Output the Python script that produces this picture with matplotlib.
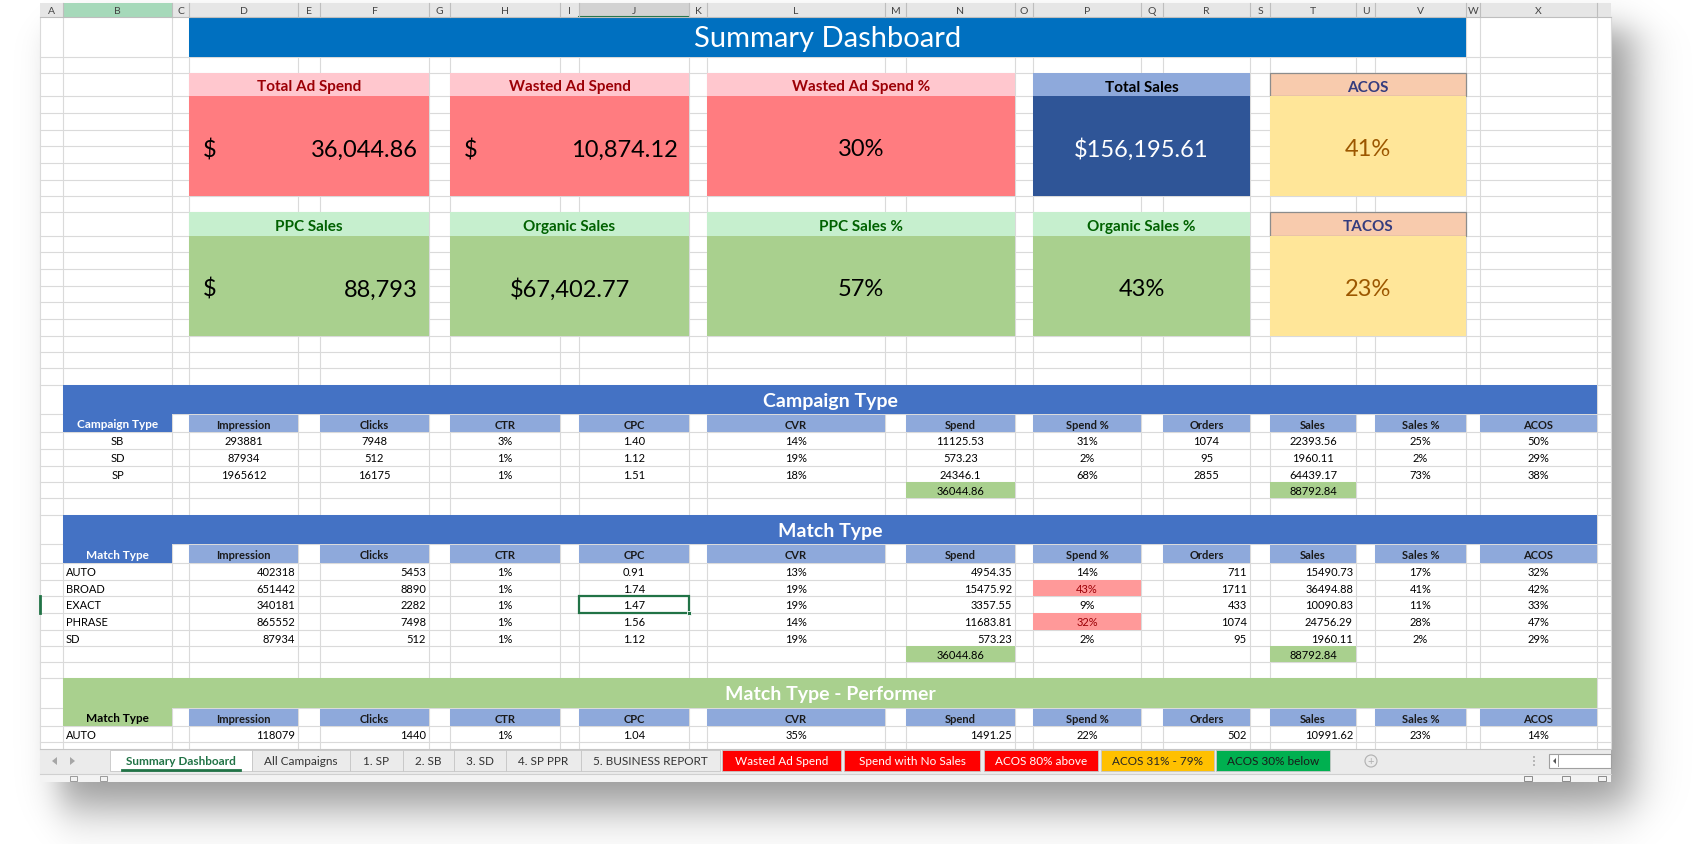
import numpy as np
import matplotlib.pyplot as plt
from matplotlib.patches import Rectangle, Circle, Polygon

plt.rcParams['font.family'] = ['Lato', 'DejaVu Sans']

# ---- KPI cards
kpi1_labels = ["Total Ad Spend", "Wasted Ad Spend", "Wasted Ad Spend %", "Total Sales", "ACOS"]
kpi1_values = [36044.86, 10874.12, 30, 156195.61, 41]
kpi2_labels = ["PPC Sales", "Organic Sales", "PPC Sales %", "Organic Sales %", "TACOS"]
kpi2_values = [88792.84, 67402.77, 57, 43, 23]

# ---- tables
metric_headers = ["Impression", "Clicks", "CTR", "CPC", "CVR", "Spend", "Spend %",
                  "Orders", "Sales", "Sales %", "ACOS"]

campaign_types = ["SB", "SD", "SP"]
camp_impressions = [293881, 87934, 1965612]
camp_clicks = [7948, 512, 16175]
camp_ctr = [3, 1, 1]
camp_cpc = [1.40, 1.12, 1.51]
camp_cvr = [14, 19, 18]
camp_spend = [11125.53, 573.23, 24346.1]
camp_spend_pct = [31, 2, 68]
camp_orders = [1074, 95, 2855]
camp_sales = [22393.56, 1960.11, 64439.17]
camp_sales_pct = [25, 2, 73]
camp_acos = [50, 29, 38]

match_types = ["AUTO", "BROAD", "EXACT", "PHRASE", "SD"]
match_impressions = [402318, 651442, 340181, 865552, 87934]
match_clicks = [5453, 8890, 2282, 7498, 512]
match_ctr = [1, 1, 1, 1, 1]
match_cpc = [0.91, 1.74, 1.47, 1.56, 1.12]
match_cvr = [13, 19, 19, 14, 19]
match_spend = [4954.35, 15475.92, 3357.55, 11683.81, 573.23]
match_spend_pct = [14, 43, 9, 32, 2]
match_orders = [711, 1711, 433, 1074, 95]
match_sales = [15490.73, 36494.88, 10090.83, 24756.29, 1960.11]
match_sales_pct = [17, 41, 11, 28, 2]
match_acos = [32, 42, 33, 47, 29]

perf_types = ["AUTO"]
perf_impressions = [118079]
perf_clicks = [1440]
perf_ctr = [1]
perf_cpc = [1.04]
perf_cvr = [35]
perf_spend = [1491.25]
perf_spend_pct = [22]
perf_orders = [502]
perf_sales = [10991.62]
perf_sales_pct = [23]
perf_acos = [14]

spend_total = 36044.86
sales_total = 88792.84

tab_names = ["Summary Dashboard", "All Campaigns", "1. SP", "2. SB", "3. SD", "4. SP PPR",
             "5. BUSINESS REPORT", "Wasted Ad Spend", "Spend with No Sales", "ACOS 80% above",
             "ACOS 31% - 79%", "ACOS 30% below"]

# ---- sheet layout (pixels)
W, H = 1706, 845
letters = list("ABCDEFGHIJKLMNOPQRSTUVWX")
col_edges = [40, 63, 172, 189, 298, 320, 429, 450, 560, 579, 689, 707, 885, 906,
             1015, 1033, 1141, 1163, 1250, 1270, 1356, 1375, 1466, 1480, 1597]
row_edges = [4, 18, 58, 74, 97, 114, 131, 147, 164, 181, 197, 213, 237, 253, 270, 287,
             303, 320, 337, 353, 369, 386, 415, 433, 450, 467, 483, 499, 516, 545, 564,
             581, 597, 614, 631, 647, 663, 679, 709, 727, 743, 760]
win_x0, win_x1, win_y1 = 40, 1611, 783
metric_cols = [3, 5, 7, 9, 11, 13, 15, 17, 19, 21, 23]

fig = plt.figure(figsize=(W / 100, H / 100), dpi=100)
ax = fig.add_axes([0, 0, 1, 1])

# drop shadow of the window
yy, xx = np.mgrid[0:H, 0:W] + 0.5
def soft(a, w):
    return 1 / (1 + np.exp(-a / w))
s = soft(xx - 60, 10) * soft(1632 - xx, 13) * soft(yy - 30, 10) * soft(808 - yy, 14)
shadow = np.zeros((H, W, 4))
shadow[..., 3] = 0.42 * s
ax.imshow(shadow, extent=[0, W, H, 0], zorder=0, interpolation='bilinear')
ax.set_xlim(0, W)
ax.set_ylim(H, 0)
ax.set_aspect('auto')
ax.axis('off')

ax.add_patch(Rectangle((win_x0, 4), win_x1 - win_x0, win_y1 - 4, fc='white', ec='none', zorder=1))

# gridlines
for x in col_edges + [win_x1]:
    ax.plot([x, x], [18, 750], color='#DADADA', lw=0.8, zorder=2)
for y in row_edges[2:]:
    ax.plot([win_x0, win_x1], [y, y], color='#DADADA', lw=0.8, zorder=2)

# column header row
ax.add_patch(Rectangle((win_x0, 4), win_x1 - win_x0, 14, fc='#E6E6E6', ec='none', zorder=3))
ax.add_patch(Rectangle((col_edges[1], 4), col_edges[2] - col_edges[1], 14, fc='#A6D9BA', ec='none', zorder=3))
ax.add_patch(Rectangle((col_edges[9], 4), col_edges[10] - col_edges[9], 14, fc='#D2D2D2', ec='none', zorder=3))
ax.plot([col_edges[9], col_edges[10]], [17.5, 17.5], color='#217346', lw=1.5, zorder=4)
for i, L in enumerate(letters):
    x0, x1 = col_edges[i], col_edges[i + 1]
    ax.plot([x1, x1], [4, 18], color='#BEBEBE', lw=0.8, zorder=4)
    ax.text((x0 + x1) / 2, 11, L, ha='center', va='center', fontsize=7.5, color='#444444', zorder=5)
ax.plot([win_x0, win_x1], [18, 18], color='#BEBEBE', lw=0.8, zorder=4)


def box(c0, c1, r0, r1, fc, ec='none', lw=0, z=3):
    x0, x1 = col_edges[c0], col_edges[c1 + 1]
    y0, y1 = row_edges[r0], row_edges[r1 + 1]
    ax.add_patch(Rectangle((x0, y0), x1 - x0, y1 - y0, fc=fc, ec=ec, lw=lw, zorder=z))
    return x0, x1, (y0 + y1) / 2


# title
x0, x1, yc = box(3, 21, 1, 1, '#0070C0')
ax.text((x0 + x1) / 2, yc + 1, "Summary Dashboard", ha='center', va='center',
        fontsize=21, color='white', zorder=6)

# KPI cards
card_cols = [(3, 5), (7, 9), (11, 13), (15, 17), (19, 21)]
card1_style = [('#FFC7CE', '#9C0006', '#FF7C80', 'black', 'acct2'),
               ('#FFC7CE', '#9C0006', '#FF7C80', 'black', 'acct2'),
               ('#FFC7CE', '#9C0006', '#FF7C80', 'black', 'pct'),
               ('#8EA9DB', 'black', '#2F5597', 'white', 'cur2'),
               ('#F8CBAD', '#343C7E', '#FFE699', '#9C5700', 'pct')]
card2_style = [('#C6EFCE', '#006100', '#A9D08E', 'black', 'acct0'),
               ('#C6EFCE', '#006100', '#A9D08E', 'black', 'cur2'),
               ('#C6EFCE', '#006100', '#A9D08E', 'black', 'pct'),
               ('#C6EFCE', '#006100', '#A9D08E', 'black', 'pct'),
               ('#F8CBAD', '#343C7E', '#FFE699', '#9C5700', 'pct')]


def draw_cards(labels, values, styles, hr, br0, br1):
    for (c0, c1), lab, val, st in zip(card_cols, labels, values, styles):
        hfc, htc, bfc, btc, fmt = st
        bordered = hfc == '#F8CBAD'
        x0, x1, yc = box(c0, c1, hr, hr, hfc, ec='#8C8C8C' if bordered else 'none',
                         lw=0.9 if bordered else 0)
        ax.text((x0 + x1) / 2, yc + 2, lab, ha='center', va='center', fontsize=11,
                fontweight='bold', color=htc, zorder=6)
        x0, x1, yc = box(c0, c1, br0, br1, bfc)
        yc += 3
        if fmt.startswith('acct'):
            txt = f"{val:,.2f}" if fmt == 'acct2' else f"{val:,.0f}"
            ax.text(x0 + 14, yc, "$", ha='left', va='center', fontsize=17, color=btc, zorder=6)
            ax.text(x1 - 11, yc, txt, ha='right', va='center', fontsize=17, color=btc, zorder=6)
        else:
            txt = f"{val}%" if fmt == 'pct' else f"${val:,.2f}"
            ax.text((x0 + x1) / 2, yc, txt, ha='center', va='center', fontsize=17,
                    color=btc, zorder=6)


draw_cards(kpi1_labels, kpi1_values, card1_style, 3, 4, 9)
draw_cards(kpi2_labels, kpi2_values, card2_style, 11, 12, 17)


def draw_table(bar_row, title, bar_fc, label_head, label_fc, label_tc, names, cols,
               align, totals=True, flag_spend=False):
    x0, x1, yc = box(1, 23, bar_row, bar_row, bar_fc)
    ax.text((x0 + x1) / 2, yc + 1, title, ha='center', va='center', fontsize=14,
            fontweight='bold', color='white', zorder=6)
    hr = bar_row + 1
    x0, x1, yc = box(1, 1, hr, hr, label_fc)
    ax.text((x0 + x1) / 2, yc + 1, label_head, ha='center', va='center', fontsize=8.5,
            fontweight='bold', color=label_tc, zorder=6)
    for c, h in zip(metric_cols, metric_headers):
        y0, y1 = row_edges[hr] + 1, row_edges[hr + 1]
        ax.add_patch(Rectangle((col_edges[c], y0), col_edges[c + 1] - col_edges[c], y1 - y0,
                               fc='#8EA9DB', ec='none', zorder=3))
        ax.text((col_edges[c] + col_edges[c + 1]) / 2, (y0 + y1) / 2 + 1, h, ha='center',
                va='center', fontsize=8, fontweight='bold', color='#1A1A1A', zorder=6)
    right_cols = {0, 1, 5, 7, 8}
    for i, name in enumerate(names):
        r = hr + 1 + i
        yc = (row_edges[r] + row_edges[r + 1]) / 2 + 0.5
        if align == 'center':
            ax.text((col_edges[1] + col_edges[2]) / 2, yc, name, ha='center', va='center',
                    fontsize=8, color='black', zorder=6)
        else:
            ax.text(col_edges[1] + 3, yc, name, ha='left', va='center', fontsize=8,
                    color='black', zorder=6)
        for j, (c, series) in enumerate(zip(metric_cols, cols)):
            v = series[i]
            if j in (2, 4, 6, 9, 10):
                txt = f"{v}%"
            elif j == 3:
                txt = f"{v:.2f}"
            else:
                txt = str(v)
            tc = 'black'
            if flag_spend and j == 6 and v > 30:
                box(c, c, r, r, '#FF9999')
                tc = '#9C0006'
            if align == 'right' and j in right_cols:
                ax.text(col_edges[c + 1] - 3, yc, txt, ha='right', va='center', fontsize=8,
                        color=tc, zorder=6)
            else:
                ax.text((col_edges[c] + col_edges[c + 1]) / 2, yc, txt, ha='center',
                        va='center', fontsize=8, color=tc, zorder=6)
    if totals:
        r = hr + 1 + len(names)
        for c, v in ((13, spend_total), (19, sales_total)):
            x0, x1, yc = box(c, c, r, r, '#A9D08E')
            ax.text((x0 + x1) / 2, yc + 0.5, str(v), ha='center', va='center', fontsize=8,
                    color='black', zorder=6)


draw_table(21, "Campaign Type", '#4472C4', "Campaign Type", '#4472C4', 'white', campaign_types,
           [camp_impressions, camp_clicks, camp_ctr, camp_cpc, camp_cvr, camp_spend,
            camp_spend_pct, camp_orders, camp_sales, camp_sales_pct, camp_acos], 'center')
draw_table(28, "Match Type", '#4472C4', "Match Type", '#4472C4', 'white', match_types,
           [match_impressions, match_clicks, match_ctr, match_cpc, match_cvr, match_spend,
            match_spend_pct, match_orders, match_sales, match_sales_pct, match_acos], 'right',
           flag_spend=True)
draw_table(37, "Match Type - Performer", '#A9D08E', "Match Type", '#A9D08E', 'black', perf_types,
           [perf_impressions, perf_clicks, perf_ctr, perf_cpc, perf_cvr, perf_spend,
            perf_spend_pct, perf_orders, perf_sales, perf_sales_pct, perf_acos], 'right',
           totals=False)

# selected cell (EXACT / CPC)
sx0, sx1 = col_edges[9], col_edges[10]
sy0, sy1 = row_edges[32], row_edges[33]
ax.add_patch(Rectangle((sx0, sy0), sx1 - sx0, sy1 - sy0, fc='none', ec='#217346', lw=1.6, zorder=7))
ax.add_patch(Rectangle((sx1 - 2, sy1 - 2), 4, 4, fc='#217346', ec='white', lw=0.6, zorder=8))
ax.plot([win_x0 + 0.5, win_x0 + 0.5], [sy0, sy1], color='#217346', lw=2, zorder=7)

# sheet tab bar
ax.add_patch(Rectangle((win_x0, 750), win_x1 - win_x0, 25, fc='#EBEBEB', ec='none', zorder=9))
ax.plot([win_x0, win_x1], [750, 750], color='#C6C6C6', lw=0.8, zorder=10)
ax.add_patch(Rectangle((win_x0, 775), win_x1 - win_x0, 8, fc='#F3F3F3', ec='none', zorder=9))
ax.plot([win_x0, win_x1], [775, 775], color='#D0D0D0', lw=0.8, zorder=10)
ax.add_patch(Polygon([[52, 762], [57, 758], [57, 766]], closed=True, fc='#A6A6A6', ec='none', zorder=10))
ax.add_patch(Polygon([[75, 762], [70, 758], [70, 766]], closed=True, fc='#A6A6A6', ec='none', zorder=10))

tab_edges = [(110, 252), (252, 350), (350, 403), (403, 454), (454, 506), (506, 581),
             (581, 720), (722, 841), (844, 980), (984, 1098), (1101, 1214), (1216, 1330)]
tab_fill = ['white'] + ['#EBEBEB'] * 6 + ['#FF0000'] * 3 + ['#FFC000', '#00B050']
tab_text = ['#217346'] + ['#333333'] * 6 + ['white'] * 3 + ['#262626', '#1A1A1A']
for k, (name, (t0, t1)) in enumerate(zip(tab_names, tab_edges)):
    ax.add_patch(Rectangle((t0, 751), t1 - t0, 21, fc=tab_fill[k], ec='#C6C6C6', lw=0.6, zorder=10))
    ax.text((t0 + t1) / 2, 762, name, ha='center', va='center', fontsize=8.5,
            fontweight='bold' if k == 0 else 'normal', color=tab_text[k], zorder=11)
ax.plot([122, 240], [771, 771], color='#217346', lw=2, zorder=11)
ax.add_patch(Circle((1371, 762), 6, fc='none', ec='#B0B0B0', lw=0.8, zorder=11))
ax.text(1371, 762, "+", ha='center', va='center', fontsize=8, color='#B0B0B0', zorder=11)
for dy in (-4, 0, 4):
    ax.add_patch(Circle((1534, 762 + dy), 0.9, fc='#9A9A9A', ec='none', zorder=11))
ax.add_patch(Rectangle((1549, 755), win_x1 - 1549, 14, fc='white', ec='#A0A0A0', lw=0.8, zorder=11))
ax.add_patch(Polygon([[1553, 762], [1556, 759], [1556, 765]], closed=True, fc='#555555', ec='none', zorder=12))
ax.add_patch(Rectangle((1558, 756), 1, 12, fc='#A0A0A0', ec='none', zorder=12))
for bx in (1524, 1562, 1598):
    ax.add_patch(Rectangle((bx, 777), 8, 5, fc='none', ec='#8A8A8A', lw=0.7, zorder=11))
for bx in (70, 100):
    ax.add_patch(Rectangle((bx, 777), 7, 5, fc='none', ec='#9A9A9A', lw=0.7, zorder=11))

fig.savefig("out.png", dpi=100)
